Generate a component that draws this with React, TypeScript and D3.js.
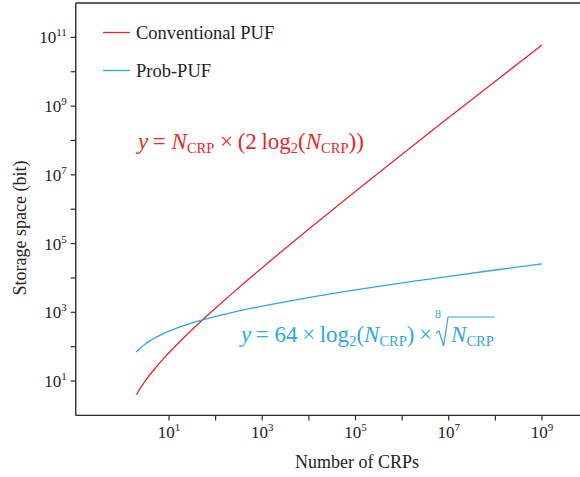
import React, { useLayoutEffect, useRef, useState } from "react";
import * as d3 from "d3";

// Number of challenge–response pairs (x) and the storage needed (bits) for each scheme
const crpCounts = [2, 2.5, 3, 4, 5, 6, 8, 10, 15, 20, 30, 50, 70, 100, 200, 500, 1e3, 1e4, 1e5, 1e6, 1e7, 1e8, 1e9];
const conventionalBits = [4, 6.61, 9.51, 16, 23.22, 31.02, 48, 66.44, 117.2, 172.9, 294.4, 564.4, 858.1, 1328.8, 3057.6, 8965.8, 19932, 265754, 3.322e6, 3.986e7, 4.651e8, 5.315e9, 5.979e10];
const probPufBits = [69.79, 94.88, 116.4, 152.2, 181.7, 207.0, 249.0, 283.5, 350.7, 402.2, 480.4, 589.2, 667.2, 756.2, 948.8, 1248.5, 1512.5, 2689.3, 4482.7, 7173.4, 11160, 17008, 25516];

const xTickExponents = [1, 2, 3, 4, 5, 6, 7, 8, 9];
const yTickExponents = [1, 2, 3, 4, 5, 6, 7, 8, 9, 10, 11];
const seriesNames = ["Conventional PUF", "Prob-PUF"];

const RED = "#e8262d";
const BLUE = "#2ea7df";
const AXIS = "#2b2b2b";
const FONT = "'Liberation Serif', 'Times New Roman', serif";

const W = 580;
const H = 477;

const F_SIZE = 23;
const SUB_SIZE = 14.5;
const SUB_DY = 4;

export default function App() {
  const x = d3.scaleLog().domain([0.1, 1e10]).range([75.75, 588.6]);
  const y = d3.scaleLog().domain([1, 1e12]).range([415.4, 3]);

  const line = d3
    .line<number>()
    .x((_, i) => x(crpCounts[i]))
    .y((v) => y(v))
    .curve(d3.curveMonotoneX);
  const redPath = line(conventionalBits) || "";
  const bluePath = line(probPufBits) || "";

  const [x0, x1] = x.range();
  const [y0, y1] = y.range();

  // the radical follows the measured end of the leading part of the blue formula
  const leadRef = useRef<SVGTextElement>(null);
  const radRef = useRef<SVGTextElement>(null);
  const [leadW, setLeadW] = useState(192);
  const [radW, setRadW] = useState(38);
  useLayoutEffect(() => {
    if (leadRef.current) setLeadW(leadRef.current.getComputedTextLength());
    if (radRef.current) setRadW(radRef.current.getComputedTextLength());
  }, []);

  const redX = 138;
  const redY = 149;
  const blueX = 241;
  const blueY = 342;
  const rx = blueX + leadW + 3; // start of the radical sign
  const nX = rx + 16; // start of the radicand

  return (
    <svg width={W} height={H} style={{ display: "block", position: "absolute", left: 0, top: 0 }} fontFamily={FONT}>
      <rect x={0} y={0} width={W} height={H} fill="#fff" />

      {/* plot frame */}
      <line x1={x0} x2={x1} y1={y1} y2={y1} stroke={AXIS} strokeWidth={1.4} />
      <line x1={x0} x2={x1} y1={y0} y2={y0} stroke={AXIS} strokeWidth={1.4} />
      <line x1={x0} x2={x0} y1={y0} y2={y1} stroke={AXIS} strokeWidth={1.4} />
      <line x1={x1} x2={x1} y1={y0} y2={y1} stroke={AXIS} strokeWidth={1.4} />

      {/* x axis ticks */}
      {xTickExponents.map((e) => {
        const px = x(Math.pow(10, e));
        return (
          <g key={`xt${e}`}>
            <line x1={px} x2={px} y1={y0} y2={y0 + 5} stroke={AXIS} strokeWidth={1.2} />
            {e % 2 === 1 && (
              <text x={px} y={y0 + 23} textAnchor="middle" fontSize={17} fill="#222">
                10<tspan dy={-7} fontSize={11}>{e}</tspan>
              </text>
            )}
          </g>
        );
      })}

      {/* y axis ticks */}
      {yTickExponents.map((e) => {
        const py = y(Math.pow(10, e));
        return (
          <g key={`yt${e}`}>
            <line x1={x0 - 5} x2={x0} y1={py} y2={py} stroke={AXIS} strokeWidth={1.2} />
            {e % 2 === 1 && (
              <text x={x0 - 9} y={py + 6} textAnchor="end" fontSize={17} fill="#222">
                10<tspan dy={-7} fontSize={11}>{e}</tspan>
              </text>
            )}
          </g>
        );
      })}

      {/* axis titles */}
      <text x={357} y={468} textAnchor="middle" fontSize={18} fill="#222">
        Number of CRPs
      </text>
      <text transform={`translate(26, 228) rotate(-90)`} textAnchor="middle" fontSize={18} fill="#222">
        Storage space (bit)
      </text>

      {/* curves */}
      <path d={redPath} fill="none" stroke={RED} strokeWidth={1.3} />
      <path d={bluePath} fill="none" stroke={BLUE} strokeWidth={1.3} />

      {/* legend */}
      <line x1={103} x2={130} y1={32.5} y2={32.5} stroke={RED} strokeWidth={1.3} />
      <text x={136} y={39} fontSize={18.5} fill="#222">{seriesNames[0]}</text>
      <line x1={103} x2={130} y1={70.5} y2={70.5} stroke={BLUE} strokeWidth={1.3} />
      <text x={136} y={77} fontSize={18.5} fill="#222">{seriesNames[1]}</text>

      {/* red formula */}
      <text x={redX} y={redY} fontSize={F_SIZE} fill={RED}>
        <tspan fontStyle="italic">y</tspan>
        <tspan>{"\u2009= "}</tspan>
        <tspan fontStyle="italic">N</tspan>
        <tspan fontSize={SUB_SIZE} dy={SUB_DY}>CRP</tspan>
        <tspan dy={-SUB_DY}>{" ×\u2009(2\u2009log"}</tspan>
        <tspan fontSize={SUB_SIZE} dy={SUB_DY}>2</tspan>
        <tspan dy={-SUB_DY}>(</tspan>
        <tspan fontStyle="italic">N</tspan>
        <tspan fontSize={SUB_SIZE} dy={SUB_DY}>CRP</tspan>
        <tspan dy={-SUB_DY}>{"))"}</tspan>
      </text>

      {/* blue formula */}
      <text ref={leadRef} x={blueX} y={blueY} fontSize={F_SIZE} fill={BLUE}>
        <tspan fontStyle="italic">y</tspan>
        <tspan>{"\u2009= 64\u2009×\u2009log"}</tspan>
        <tspan fontSize={SUB_SIZE} dy={SUB_DY}>2</tspan>
        <tspan dy={-SUB_DY}>(</tspan>
        <tspan fontStyle="italic">N</tspan>
        <tspan fontSize={SUB_SIZE} dy={SUB_DY}>CRP</tspan>
        <tspan dy={-SUB_DY}>{")\u2009×"}</tspan>
      </text>
      <text x={rx} y={blueY - 24} fontSize={12} fill={BLUE}>8</text>
      <path
        d={`M${rx + 1},${blueY - 9} L${rx + 4},${blueY - 11} L${rx + 8.5},${blueY + 4} L${rx + 13},${blueY - 25} L${nX + radW + 1},${blueY - 25}`}
        fill="none"
        stroke={BLUE}
        strokeWidth={1.2}
      />
      <text ref={radRef} x={nX} y={blueY} fontSize={F_SIZE} fill={BLUE}>
        <tspan fontStyle="italic">N</tspan>
        <tspan fontSize={SUB_SIZE} dy={SUB_DY}>CRP</tspan>
      </text>
    </svg>
  );
}
